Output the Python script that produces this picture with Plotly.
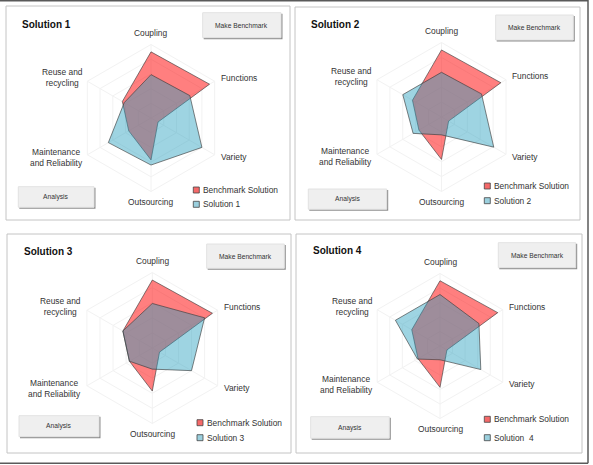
import plotly.graph_objects as go

W, H = 593, 465

categories = ["Coupling", "Functions", "Variety", "Outsourcing",
              "Maintenance and Reliability", "Reuse and recycling"]
label_text = ["Coupling", "Functions", "Variety", "Outsourcing",
              "Maintenance<br>and Reliability", "Reuse and<br>recycling"]

benchmark_name = "Benchmark Solution"
benchmark = [4.5, 4.6, 0.55, 2.85, 1.75, 2.25]

solution_names = ["Solution 1", "Solution 2", "Solution 3", "Solution\u00a0 4"]
panel_titles = ["Solution 1", "Solution 2", "Solution 3", "Solution 4"]
solution_1 = [2.95, 3.05, 4.0, 3.2, 3.35, 2.1]
solution_2 = [3.0, 3.1, 4.05, 1.2, 2.2, 3.0]
solution_3 = [2.95, 4.0, 3.0, 1.4, 1.75, 2.25]
solution_4 = [3.55, 3.1, 3.25, 0.95, 1.8, 3.55]
solutions = [solution_1, solution_2, solution_3, solution_4]
analysis_labels = ["Analysis", "Analysis", "Analysis", "Anaysis"]
button_label = "Make Benchmark"

# layout (pixel geometry of each panel)
panels = [
    dict(box=(6, 6, 290, 220), c=(151, 118), R=73.5, title=(20, 24),
         mb=(202.7, 12.7, 281, 37.7), an=(18.3, 186.7, 94, 207.3), leg=(196.3, 190, 204.3)),
    dict(box=(295, 7, 580, 220), c=(441.5, 117), R=74.5, title=(309, 24.3),
         mb=(495.7, 15, 573.3, 40), an=(308.3, 189, 386.7, 209.3), leg=(487.3, 186, 200.7)),
    dict(box=(7, 234, 291, 453), c=(152.3, 348), R=75.5, title=(21.7, 251),
         mb=(206.7, 244, 284.3, 268.3), an=(19, 415.7, 99, 436.7), leg=(200, 422.7, 437.7)),
    dict(box=(296, 234, 582, 453), c=(440, 346), R=72.5, title=(310.7, 250.7),
         mb=(498.3, 242.7, 575.7, 267.7), an=(310.7, 416.7, 389.3, 438.3), leg=(487.3, 419.3, 437.7)),
]

RED_FILL = "rgba(255,10,10,0.52)"
BLUE_FILL = "rgba(40,160,190,0.45)"
EDGE = "rgba(60,60,60,0.8)"
GRID = "#F2F2F2"
FONT = "Liberation Sans, Arial, sans-serif"


def X(x):
    return x / W


def Y(y):
    return 1 - y / H


fig = go.Figure()
shapes = []
annotations = []

for i, p in enumerate(panels):
    pid = "polar" if i == 0 else f"polar{i+1}"
    sub = "polar" if i == 0 else f"polar{i+1}"
    cx, cy = p["c"]
    R = p["R"]
    theta = categories + [categories[0]]
    fig.add_trace(go.Scatterpolar(
        r=benchmark + [benchmark[0]], theta=theta, fill="toself",
        fillcolor=RED_FILL, line=dict(color=EDGE, width=0.8),
        mode="lines", name=benchmark_name, subplot=sub, showlegend=False))
    vals = solutions[i]
    fig.add_trace(go.Scatterpolar(
        r=vals + [vals[0]], theta=theta, fill="toself",
        fillcolor=BLUE_FILL, line=dict(color=EDGE, width=0.8),
        mode="lines", name=solution_names[i], subplot=sub, showlegend=False))
    fig.layout[pid] = dict(
        domain=dict(x=[X(cx - R), X(cx + R)], y=[Y(cy + R), Y(cy - R)]),
        bgcolor="rgba(0,0,0,0)",
        gridshape="linear",
        radialaxis=dict(range=[0, 5], tickvals=[1, 2, 3, 4, 5], showticklabels=False,
                        ticks="", showline=False, gridcolor=GRID, gridwidth=1),
        angularaxis=dict(direction="clockwise", rotation=90, showticklabels=False,
                         ticks="", showline=True, linecolor=GRID, linewidth=1,
                         gridcolor=GRID, gridwidth=1,
                         categoryarray=categories, categoryorder="array"),
    )

    # panel frame
    x0, y0, x1, y1 = p["box"]
    shapes.append(dict(type="rect", xref="paper", yref="paper", x0=X(x0), x1=X(x1),
                       y0=Y(y1), y1=Y(y0), line=dict(color="#C4C4C4", width=1),
                       fillcolor="rgba(0,0,0,0)", layer="below"))
    # title
    tx, ty = p["title"]
    annotations.append(dict(x=X(tx), y=Y(ty), xref="paper", yref="paper", xanchor="left",
                            yanchor="middle", showarrow=False,
                            text=f"<b>{panel_titles[i]}</b>",
                            font=dict(family=FONT, size=10, color="#111111")))
    # buttons
    for (bx0, by0, bx1, by1), txt in ((p["mb"], button_label), (p["an"], analysis_labels[i])):
        shapes.append(dict(type="rect", xref="paper", yref="paper", x0=X(bx0 + 1), x1=X(bx1 + 1.5),
                           y0=Y(by1 + 1.5), y1=Y(by0 + 1), line=dict(width=0),
                           fillcolor="#8E8E8E"))
        shapes.append(dict(type="rect", xref="paper", yref="paper", x0=X(bx0), x1=X(bx1),
                           y0=Y(by1), y1=Y(by0), line=dict(color="#E2E2E2", width=1),
                           fillcolor="#EFEFEF"))
        annotations.append(dict(x=X((bx0 + bx1) / 2), y=Y((by0 + by1) / 2), xref="paper",
                                yref="paper", xanchor="center", yanchor="middle",
                                showarrow=False, text=txt,
                                font=dict(family=FONT, size=6.7, color="#333333")))
    # axis labels
    offs = [(0, -85, "center"), (68, -40, "left"), (68, 39, "left"), (0, 84, "center"),
            (-95, 39, "center"), (-89, -40, "center")]
    for (dx, dy, al), lab in zip(offs, label_text):
        k = R / 73.5
        annotations.append(dict(x=X(cx + dx * k), y=Y(cy + dy * k), xref="paper", yref="paper",
                                xanchor=al, yanchor="middle", align="center",
                                showarrow=False, text=lab,
                                font=dict(family=FONT, size=8.4, color="#333333")))
    # legend
    lx, ly1, ly2 = p["leg"]
    for ly, col, nm in ((ly1, "rgb(245,105,105)", benchmark_name),
                        (ly2, "rgb(155,208,222)", solution_names[i])):
        shapes.append(dict(type="rect", xref="paper", yref="paper", x0=X(lx - 3), x1=X(lx + 3),
                           y0=Y(ly + 3), y1=Y(ly - 3), line=dict(color="#444444", width=0.8),
                           fillcolor=col))
        annotations.append(dict(x=X(lx + 4.5), y=Y(ly), xref="paper", yref="paper",
                                xanchor="left", yanchor="middle", showarrow=False, text=nm,
                                font=dict(family=FONT, size=8.4, color="#333333")))

# outer screenshot border (top, right, bottom)
for (a, b, c, d) in ((0, 0.7, 588, 0.7), (588, 0, 588, 463.3), (0, 463.3, 588, 463.3)):
    shapes.append(dict(type="line", xref="paper", yref="paper", x0=X(a), x1=X(c),
                       y0=Y(b), y1=Y(d), line=dict(color="#5A5A5A", width=1.5)))

fig.update_layout(width=W, height=H, margin=dict(l=0, r=0, t=0, b=0),
                  paper_bgcolor="white", plot_bgcolor="white", showlegend=False,
                  shapes=shapes, annotations=annotations)

fig.write_html("out.html")
